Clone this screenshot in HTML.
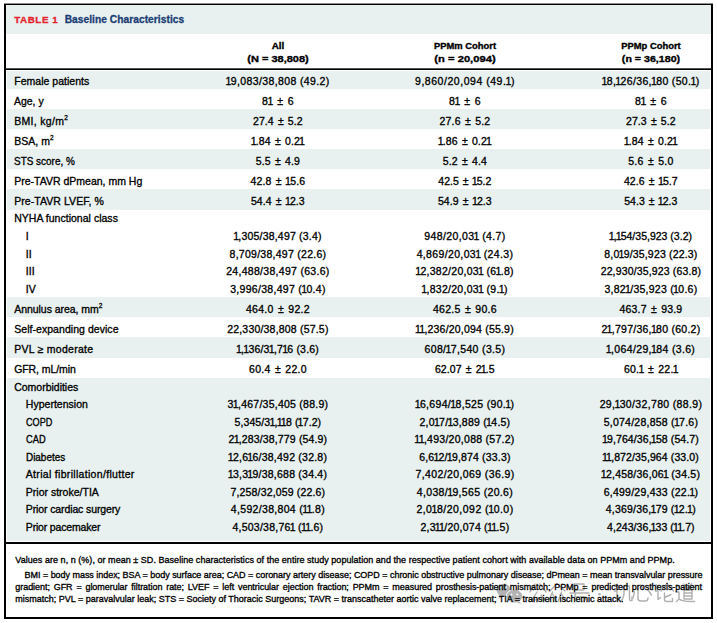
<!DOCTYPE html>
<html><head><meta charset="utf-8"><style>
*{margin:0;padding:0;box-sizing:border-box}
html,body{width:717px;height:623px;background:#fff;overflow:hidden}
body{position:relative;font-family:"Liberation Sans",sans-serif;color:#000;-webkit-text-stroke-width:0.32px}
.box{position:absolute;left:4px;top:4px;width:709px;height:615px;border:2px solid #000;border-top-width:1px}
.tl{position:absolute;left:4px;top:3px;width:709px;height:1px;background:#8c8c8c}
.tb{position:absolute;left:6px;top:5px;width:705px;height:29px;background:#e8f1f0}
.bg{position:absolute;left:7px;width:703px;background:#e8f1f0}
.hl{position:absolute;left:6px;width:705px;height:2px;background:#000}
.t{position:absolute;font-size:10.5px;line-height:14px;white-space:nowrap}
.c{text-align:center}
.h{position:absolute;font-size:9.7px;line-height:14px;font-weight:bold;white-space:nowrap;-webkit-text-stroke-width:0.35px}
.title{position:absolute;font-size:10.2px;line-height:14px;font-weight:bold;white-space:nowrap;-webkit-text-stroke-width:0.3px}
.red{color:#e4222c;font-size:9.8px;letter-spacing:0.55px;margin-right:6.4px}
.blue{color:#1b3d74}

.pm{margin:0 1.1px}
sup{font-size:0.62em;line-height:0;vertical-align:0.72em;letter-spacing:0}
.f{position:absolute;font-size:9.0px;line-height:14px;white-space:nowrap}
.j{text-align:justify;text-align-last:justify}
</style></head><body>
<div class="tb"></div>
<div class="hl" style="top:68px;height:1px;background:#555"></div><div class="hl" style="top:69px;height:1px"></div>
<div class="hl" style="top:541.5px"></div>
<svg style="position:absolute;left:0;top:0" width="717" height="623" viewBox="0 0 717 623">
<g fill="none" stroke="#b0b0b0" stroke-width="1.4" stroke-linecap="round" stroke-linejoin="round">
<g transform="translate(528,583)">
<path d="M7 1 L2 9 M12 1 L18 9 M9 9 L4 17 L16 16 M13 12 L18 18"/>
</g>
<g transform="translate(547,583)">
<path d="M10 0.5 L3 8 M10 0.5 L18 8 M5.5 9 L1.5 18.5 M5.5 11 L9 17 M14.5 9 L11 18.5 M14.5 11 L19 18.5"/>
</g>
<g transform="translate(569,583)">
<path d="M5 1 H15 V7 H5 Z M1 10 H20 M7 10 L5.5 14 H16.5 Q16.5 19 12 18.5"/>
</g>
<g transform="translate(613,583)">
<path d="M2 1.5 L4.5 4 M1.5 8 H4 V16.5 L6.5 14.5 M11 3 V11 Q10.5 16 7.5 18.5 M11 3 H16.5 V16 Q16.5 18 19 17.5 V14"/>
</g>
<g transform="translate(632,583)">
<path d="M2.5 9 L1 15 M6 6 V15.5 Q6 18 9 18 H13.5 Q16 18 16 15 M8.5 2 L11 5.5 M16 7 L19.5 12"/>
</g>
<g transform="translate(654,583)">
<path d="M2 1.5 L4.5 4 M1.5 8 H4 V16.5 L6.5 14.5 M13 0.5 L7 8 M13 0.5 L19.5 8 M10.5 10 V16.5 Q10.5 18.5 13 18.5 H18.5 V15.5 M17 11.5 L10.5 14.5"/>
</g>
<g transform="translate(675,583)">
<path d="M2 2 L4 4.5 M1 9 H4 V16 L1.5 18.5 M4 16 Q8 19 19.5 18.5 M9 1 L10.5 3 M16.5 0.5 L15 3 M7 4.5 H19.5 M13 4.5 L12 7 M9 7 H17 V16 H9 Z M9 10 H17 M9 13 H17"/>
</g>
</g>
<circle cx="599.5" cy="594.2" r="1.3" fill="#b0b0b0"/>
<g fill="#b3b3b3">
<ellipse cx="503.5" cy="590" rx="7" ry="6.3"/>
<path d="M500 594.5 L498.5 599 L503 596 Z"/>
</g>
<g fill="#b3b3b3" stroke="#fff" stroke-width="1">
<ellipse cx="514.5" cy="596.3" rx="8.2" ry="6.8"/>
</g>
<path d="M519.5 601.5 L521.5 604 L516.5 602.5 Z" fill="#b3b3b3"/>
<g fill="#fff"><circle cx="500.5" cy="587.5" r="0.9"/><circle cx="505.8" cy="587.5" r="0.9"/><circle cx="511.5" cy="594.5" r="0.9"/><circle cx="517.3" cy="594.5" r="0.9"/></g>
</svg>
<div class="bg" style="top:71.0px;height:17.6px"></div>
<div class="bg" style="top:108.8px;height:19.8px"></div>
<div class="bg" style="top:148.8px;height:19.8px"></div>
<div class="bg" style="top:188.8px;height:21.0px"></div>
<div class="bg" style="top:296.8px;height:20.2px"></div>
<div class="bg" style="top:336.8px;height:21.0px"></div>
<div class="bg" style="top:378.0px;height:163.0px"></div>
<div id="e0" class="t" style="left:14.20px;top:74.36px;letter-spacing:0.029px">Female patients</div>
<div class="t c" style="left:177.80px;width:200px;top:74.36px"><span id="e1" style="letter-spacing:0.384px;margin-right:-0.384px"><span style="margin-left:-0.9px;letter-spacing:-0.516px">1</span>9,083/38,808 (49.2)</span></div>
<div class="t c" style="left:364.80px;width:200px;top:74.36px"><span id="e2" style="letter-spacing:0.533px;margin-right:-0.533px">9,860/20,094 (49.<span style="margin-left:-0.9px;letter-spacing:-0.367px">1</span>)</span></div>
<div class="t c" style="left:550.80px;width:200px;top:74.36px"><span id="e3" style="letter-spacing:0.338px;margin-right:-0.338px"><span style="margin-left:-0.9px;letter-spacing:-0.562px">1</span>8,<span style="margin-left:-0.9px;letter-spacing:-0.562px">1</span>26/36,<span style="margin-left:-0.9px;letter-spacing:-0.562px">1</span>80 (50.<span style="margin-left:-0.9px;letter-spacing:-0.562px">1</span>)</span></div>
<div id="e4" class="t" style="left:14.20px;top:94.26px;letter-spacing:0.000px;transform:scaleX(0.9951);transform-origin:0 0">Age, y</div>
<div class="t c" style="left:177.80px;width:200px;top:94.26px"><span id="e5" style="letter-spacing:0.400px;margin-right:-0.400px">8<span style="margin-left:-0.9px;letter-spacing:-0.500px">1</span> <span class="pm">±</span> 6</span></div>
<div class="t c" style="left:364.80px;width:200px;top:94.26px"><span id="e6" style="letter-spacing:0.400px;margin-right:-0.400px">8<span style="margin-left:-0.9px;letter-spacing:-0.500px">1</span> <span class="pm">±</span> 6</span></div>
<div class="t c" style="left:550.80px;width:200px;top:94.26px"><span id="e7" style="letter-spacing:0.400px;margin-right:-0.400px">8<span style="margin-left:-0.9px;letter-spacing:-0.500px">1</span> <span class="pm">±</span> 6</span></div>
<div id="e8" class="t" style="left:14.20px;top:113.96px;letter-spacing:0.311px">BMI, kg/m<sup>2</sup></div>
<div class="t c" style="left:177.80px;width:200px;top:113.96px"><span id="e9" style="letter-spacing:0.089px;margin-right:-0.089px">27.4 <span class="pm">±</span> 5.2</span></div>
<div class="t c" style="left:364.80px;width:200px;top:113.96px"><span id="e10" style="letter-spacing:0.211px;margin-right:-0.211px">27.6 <span class="pm">±</span> 5.2</span></div>
<div class="t c" style="left:550.80px;width:200px;top:113.96px"><span id="e11" style="letter-spacing:0.089px;margin-right:-0.089px">27.3 <span class="pm">±</span> 5.2</span></div>
<div id="e12" class="t" style="left:14.20px;top:133.96px;letter-spacing:0.033px">BSA, m<sup>2</sup></div>
<div class="t c" style="left:177.80px;width:200px;top:133.96px"><span id="e13" style="letter-spacing:0.120px;margin-right:-0.120px"><span style="margin-left:-0.9px;letter-spacing:-0.780px">1</span>.84 <span class="pm">±</span> 0.2<span style="margin-left:-0.9px;letter-spacing:-0.780px">1</span></span></div>
<div class="t c" style="left:364.80px;width:200px;top:133.96px"><span id="e14" style="letter-spacing:0.110px;margin-right:-0.110px"><span style="margin-left:-0.9px;letter-spacing:-0.790px">1</span>.86 <span class="pm">±</span> 0.2<span style="margin-left:-0.9px;letter-spacing:-0.790px">1</span></span></div>
<div class="t c" style="left:550.80px;width:200px;top:133.96px"><span id="e15" style="letter-spacing:0.120px;margin-right:-0.120px"><span style="margin-left:-0.9px;letter-spacing:-0.780px">1</span>.84 <span class="pm">±</span> 0.2<span style="margin-left:-0.9px;letter-spacing:-0.780px">1</span></span></div>
<div id="e16" class="t" style="left:14.20px;top:154.16px;letter-spacing:0.000px;transform:scaleX(0.9469);transform-origin:0 0">STS score, %</div>
<div class="t c" style="left:177.80px;width:200px;top:154.16px"><span id="e17" style="letter-spacing:0.150px;margin-right:-0.150px">5.5 <span class="pm">±</span> 4.9</span></div>
<div class="t c" style="left:364.80px;width:200px;top:154.16px"><span id="e18" style="letter-spacing:0.150px;margin-right:-0.150px">5.2 <span class="pm">±</span> 4.4</span></div>
<div class="t c" style="left:550.80px;width:200px;top:154.16px"><span id="e19" style="letter-spacing:0.262px;margin-right:-0.262px">5.6 <span class="pm">±</span> 5.0</span></div>
<div id="e20" class="t" style="left:14.20px;top:173.96px;letter-spacing:0.005px">Pre-TAVR dPmean, mm Hg</div>
<div class="t c" style="left:177.80px;width:200px;top:173.96px"><span id="e21" style="letter-spacing:0.190px;margin-right:-0.190px">42.8 <span class="pm">±</span> <span style="margin-left:-0.9px;letter-spacing:-0.710px">1</span>5.6</span></div>
<div class="t c" style="left:364.80px;width:200px;top:173.96px"><span id="e22" style="letter-spacing:0.000px;margin-right:-0.000px">42.5 <span class="pm">±</span> <span style="margin-left:-0.9px;letter-spacing:-0.900px">1</span>5.2</span></div>
<div class="t c" style="left:550.80px;width:200px;top:173.96px"><span id="e23" style="letter-spacing:0.090px;margin-right:-0.090px">42.6 <span class="pm">±</span> <span style="margin-left:-0.9px;letter-spacing:-0.810px">1</span>5.7</span></div>
<div id="e24" class="t" style="left:14.20px;top:193.96px;letter-spacing:0.067px">Pre-TAVR LVEF, %</div>
<div class="t c" style="left:177.80px;width:200px;top:193.96px"><span id="e25" style="letter-spacing:0.090px;margin-right:-0.090px">54.4 <span class="pm">±</span> <span style="margin-left:-0.9px;letter-spacing:-0.810px">1</span>2.3</span></div>
<div class="t c" style="left:364.80px;width:200px;top:193.96px"><span id="e26" style="letter-spacing:0.090px;margin-right:-0.090px">54.9 <span class="pm">±</span> <span style="margin-left:-0.9px;letter-spacing:-0.810px">1</span>2.3</span></div>
<div class="t c" style="left:550.80px;width:200px;top:193.96px"><span id="e27" style="letter-spacing:0.020px;margin-right:-0.020px">54.3 <span class="pm">±</span> <span style="margin-left:-0.9px;letter-spacing:-0.880px">1</span>2.3</span></div>
<div id="e28" class="t" style="left:14.20px;top:211.36px;letter-spacing:0.020px">NYHA functional class</div>
<div id="e29" class="t" style="left:25.80px;top:229.16px;letter-spacing:0.000px">I</div>
<div class="t c" style="left:177.80px;width:200px;top:229.16px"><span id="e30" style="letter-spacing:0.200px;margin-right:-0.200px"><span style="margin-left:-0.9px;letter-spacing:-0.700px">1</span>,305/38,497 (3.4)</span></div>
<div class="t c" style="left:364.80px;width:200px;top:229.16px"><span id="e31" style="letter-spacing:0.372px;margin-right:-0.372px">948/20,03<span style="margin-left:-0.9px;letter-spacing:-0.528px">1</span> (4.7)</span></div>
<div class="t c" style="left:550.80px;width:200px;top:229.16px"><span id="e32" style="letter-spacing:0.006px;margin-right:-0.006px"><span style="margin-left:-0.9px;letter-spacing:-0.894px">1</span>,<span style="margin-left:-0.9px;letter-spacing:-0.894px">1</span>54/35,923 (3.2)</span></div>
<div id="e33" class="t" style="left:25.80px;top:246.76px;letter-spacing:0.000px">II</div>
<div class="t c" style="left:177.80px;width:200px;top:246.76px"><span id="e34" style="letter-spacing:0.272px;margin-right:-0.272px">8,709/38,497 (22.6)</span></div>
<div class="t c" style="left:364.80px;width:200px;top:246.76px"><span id="e35" style="letter-spacing:0.356px;margin-right:-0.356px">4,869/20,03<span style="margin-left:-0.9px;letter-spacing:-0.544px">1</span> (24.3)</span></div>
<div class="t c" style="left:550.80px;width:200px;top:246.76px"><span id="e36" style="letter-spacing:0.172px;margin-right:-0.172px">8,0<span style="margin-left:-0.9px;letter-spacing:-0.728px">1</span>9/35,923 (22.3)</span></div>
<div id="e37" class="t" style="left:25.80px;top:264.36px;letter-spacing:0.000px">III</div>
<div class="t c" style="left:177.80px;width:200px;top:264.36px"><span id="e38" style="letter-spacing:0.295px;margin-right:-0.295px">24,488/38,497 (63.6)</span></div>
<div class="t c" style="left:364.80px;width:200px;top:264.36px"><span id="e39" style="letter-spacing:0.279px;margin-right:-0.279px"><span style="margin-left:-0.9px;letter-spacing:-0.621px">1</span>2,382/20,03<span style="margin-left:-0.9px;letter-spacing:-0.621px">1</span> (6<span style="margin-left:-0.9px;letter-spacing:-0.621px">1</span>.8)</span></div>
<div class="t c" style="left:550.80px;width:200px;top:264.36px"><span id="e40" style="letter-spacing:0.147px;margin-right:-0.147px">22,930/35,923 (63.8)</span></div>
<div id="e41" class="t" style="left:25.80px;top:281.96px;letter-spacing:0.000px">IV</div>
<div class="t c" style="left:177.80px;width:200px;top:281.96px"><span id="e42" style="letter-spacing:0.300px;margin-right:-0.300px">3,996/38,497 (<span style="margin-left:-0.9px;letter-spacing:-0.600px">1</span>0.4)</span></div>
<div class="t c" style="left:364.80px;width:200px;top:281.96px"><span id="e43" style="letter-spacing:0.290px;margin-right:-0.290px"><span style="margin-left:-0.9px;letter-spacing:-0.610px">1</span>,832/20,03<span style="margin-left:-0.9px;letter-spacing:-0.610px">1</span> (9.<span style="margin-left:-0.9px;letter-spacing:-0.610px">1</span>)</span></div>
<div class="t c" style="left:550.80px;width:200px;top:281.96px"><span id="e44" style="letter-spacing:0.256px;margin-right:-0.256px">3,82<span style="margin-left:-0.9px;letter-spacing:-0.644px">1</span>/35,923 (<span style="margin-left:-0.9px;letter-spacing:-0.644px">1</span>0.6)</span></div>
<div id="e45" class="t" style="left:14.20px;top:302.16px;letter-spacing:-0.038px">Annulus area, mm<sup>2</sup></div>
<div class="t c" style="left:177.80px;width:200px;top:302.16px"><span id="e46" style="letter-spacing:0.291px;margin-right:-0.291px">464.0 <span class="pm">±</span> 92.2</span></div>
<div class="t c" style="left:364.80px;width:200px;top:302.16px"><span id="e47" style="letter-spacing:0.291px;margin-right:-0.291px">462.5 <span class="pm">±</span> 90.6</span></div>
<div class="t c" style="left:550.80px;width:200px;top:302.16px"><span id="e48" style="letter-spacing:0.209px;margin-right:-0.209px">463.7 <span class="pm">±</span> 93.9</span></div>
<div id="e49" class="t" style="left:14.20px;top:322.16px;letter-spacing:0.050px">Self-expanding device</div>
<div class="t c" style="left:177.80px;width:200px;top:322.16px"><span id="e50" style="letter-spacing:0.195px;margin-right:-0.195px">22,330/38,808 (57.5)</span></div>
<div class="t c" style="left:364.80px;width:200px;top:322.16px"><span id="e51" style="letter-spacing:0.200px;margin-right:-0.200px"><span style="margin-left:-0.9px;letter-spacing:-0.700px">1</span><span style="margin-left:-0.9px;letter-spacing:-0.700px">1</span>,236/20,094 (55.9)</span></div>
<div class="t c" style="left:550.80px;width:200px;top:322.16px"><span id="e52" style="letter-spacing:0.253px;margin-right:-0.253px">2<span style="margin-left:-0.9px;letter-spacing:-0.647px">1</span>,797/36,<span style="margin-left:-0.9px;letter-spacing:-0.647px">1</span>80 (60.2)</span></div>
<div id="e53" class="t" style="left:14.20px;top:342.26px;letter-spacing:0.269px">PVL ≥ moderate</div>
<div class="t c" style="left:177.80px;width:200px;top:342.26px"><span id="e54" style="letter-spacing:0.194px;margin-right:-0.194px"><span style="margin-left:-0.9px;letter-spacing:-0.706px">1</span>,<span style="margin-left:-0.9px;letter-spacing:-0.706px">1</span>36/3<span style="margin-left:-0.9px;letter-spacing:-0.706px">1</span>,7<span style="margin-left:-0.9px;letter-spacing:-0.706px">1</span>6 (3.6)</span></div>
<div class="t c" style="left:364.80px;width:200px;top:342.26px"><span id="e55" style="letter-spacing:0.348px;margin-right:-0.348px">608/<span style="margin-left:-0.9px;letter-spacing:-0.552px">1</span>7,540 (3.5)</span></div>
<div class="t c" style="left:550.80px;width:200px;top:342.26px"><span id="e56" style="letter-spacing:0.347px;margin-right:-0.347px"><span style="margin-left:-0.9px;letter-spacing:-0.553px">1</span>,064/29,<span style="margin-left:-0.9px;letter-spacing:-0.553px">1</span>84 (3.6)</span></div>
<div id="e57" class="t" style="left:14.20px;top:362.36px;letter-spacing:-0.080px">GFR, mL/min</div>
<div class="t c" style="left:177.80px;width:200px;top:362.36px"><span id="e58" style="letter-spacing:0.290px;margin-right:-0.290px">60.4 <span class="pm">±</span> 22.0</span></div>
<div class="t c" style="left:364.80px;width:200px;top:362.36px"><span id="e59" style="letter-spacing:0.096px;margin-right:-0.096px">62.07 <span class="pm">±</span> 2<span style="margin-left:-0.9px;letter-spacing:-0.804px">1</span>.5</span></div>
<div class="t c" style="left:550.80px;width:200px;top:362.36px"><span id="e60" style="letter-spacing:0.260px;margin-right:-0.260px">60.<span style="margin-left:-0.9px;letter-spacing:-0.640px">1</span> <span class="pm">±</span> 22.<span style="margin-left:-0.9px;letter-spacing:-0.640px">1</span></span></div>
<div id="e61" class="t" style="left:14.20px;top:379.96px;letter-spacing:-0.008px">Comorbidities</div>
<div id="e62" class="t" style="left:25.80px;top:397.46px;letter-spacing:0.018px">Hypertension</div>
<div class="t c" style="left:177.80px;width:200px;top:397.46px"><span id="e63" style="letter-spacing:0.247px;margin-right:-0.247px">3<span style="margin-left:-0.9px;letter-spacing:-0.653px">1</span>,467/35,405 (88.9)</span></div>
<div class="t c" style="left:364.80px;width:200px;top:397.46px"><span id="e64" style="letter-spacing:0.332px;margin-right:-0.332px"><span style="margin-left:-0.9px;letter-spacing:-0.568px">1</span>6,694/<span style="margin-left:-0.9px;letter-spacing:-0.568px">1</span>8,525 (90.<span style="margin-left:-0.9px;letter-spacing:-0.568px">1</span>)</span></div>
<div class="t c" style="left:550.80px;width:200px;top:397.46px"><span id="e65" style="letter-spacing:0.347px;margin-right:-0.347px">29,<span style="margin-left:-0.9px;letter-spacing:-0.553px">1</span>30/32,780 (88.9)</span></div>
<div id="e66" class="t" style="left:25.80px;top:414.96px;letter-spacing:0.000px;transform:scaleX(0.8667);transform-origin:0 0">COPD</div>
<div class="t c" style="left:177.80px;width:200px;top:414.96px"><span id="e67" style="letter-spacing:0.117px;margin-right:-0.117px">5,345/3<span style="margin-left:-0.9px;letter-spacing:-0.783px">1</span>,<span style="margin-left:-0.9px;letter-spacing:-0.783px">1</span><span style="margin-left:-0.9px;letter-spacing:-0.783px">1</span>8 (<span style="margin-left:-0.9px;letter-spacing:-0.783px">1</span>7.2)</span></div>
<div class="t c" style="left:364.80px;width:200px;top:414.96px"><span id="e68" style="letter-spacing:0.239px;margin-right:-0.239px">2,0<span style="margin-left:-0.9px;letter-spacing:-0.661px">1</span>7/<span style="margin-left:-0.9px;letter-spacing:-0.661px">1</span>3,889 (<span style="margin-left:-0.9px;letter-spacing:-0.661px">1</span>4.5)</span></div>
<div class="t c" style="left:550.80px;width:200px;top:414.96px"><span id="e69" style="letter-spacing:0.239px;margin-right:-0.239px">5,074/28,858 (<span style="margin-left:-0.9px;letter-spacing:-0.661px">1</span>7.6)</span></div>
<div id="e70" class="t" style="left:25.80px;top:432.46px;letter-spacing:0.000px;transform:scaleX(0.8839);transform-origin:0 0">CAD</div>
<div class="t c" style="left:177.80px;width:200px;top:432.46px"><span id="e71" style="letter-spacing:0.147px;margin-right:-0.147px">2<span style="margin-left:-0.9px;letter-spacing:-0.753px">1</span>,283/38,779 (54.9)</span></div>
<div class="t c" style="left:364.80px;width:200px;top:432.46px"><span id="e72" style="letter-spacing:0.274px;margin-right:-0.274px"><span style="margin-left:-0.9px;letter-spacing:-0.626px">1</span><span style="margin-left:-0.9px;letter-spacing:-0.626px">1</span>,493/20,088 (57.2)</span></div>
<div class="t c" style="left:550.80px;width:200px;top:432.46px"><span id="e73" style="letter-spacing:0.105px;margin-right:-0.105px"><span style="margin-left:-0.9px;letter-spacing:-0.795px">1</span>9,764/36,<span style="margin-left:-0.9px;letter-spacing:-0.795px">1</span>58 (54.7)</span></div>
<div id="e74" class="t" style="left:25.80px;top:449.96px;letter-spacing:0.000px;transform:scaleX(0.9439);transform-origin:0 0">Diabetes</div>
<div class="t c" style="left:177.80px;width:200px;top:449.96px"><span id="e75" style="letter-spacing:0.226px;margin-right:-0.226px"><span style="margin-left:-0.9px;letter-spacing:-0.674px">1</span>2,6<span style="margin-left:-0.9px;letter-spacing:-0.674px">1</span>6/38,492 (32.8)</span></div>
<div class="t c" style="left:364.80px;width:200px;top:449.96px"><span id="e76" style="letter-spacing:0.172px;margin-right:-0.172px">6,6<span style="margin-left:-0.9px;letter-spacing:-0.728px">1</span>2/<span style="margin-left:-0.9px;letter-spacing:-0.728px">1</span>9,874 (33.3)</span></div>
<div class="t c" style="left:550.80px;width:200px;top:449.96px"><span id="e77" style="letter-spacing:0.105px;margin-right:-0.105px"><span style="margin-left:-0.9px;letter-spacing:-0.795px">1</span><span style="margin-left:-0.9px;letter-spacing:-0.795px">1</span>,872/35,964 (33.0)</span></div>
<div id="e78" class="t" style="left:25.80px;top:467.46px;letter-spacing:0.312px">Atrial fibrillation/flutter</div>
<div class="t c" style="left:177.80px;width:200px;top:467.46px"><span id="e79" style="letter-spacing:0.226px;margin-right:-0.226px"><span style="margin-left:-0.9px;letter-spacing:-0.674px">1</span>3,3<span style="margin-left:-0.9px;letter-spacing:-0.674px">1</span>9/38,688 (34.4)</span></div>
<div class="t c" style="left:364.80px;width:200px;top:467.46px"><span id="e80" style="letter-spacing:0.394px;margin-right:-0.394px">7,402/20,069 (36.9)</span></div>
<div class="t c" style="left:550.80px;width:200px;top:467.46px"><span id="e81" style="letter-spacing:0.226px;margin-right:-0.226px"><span style="margin-left:-0.9px;letter-spacing:-0.674px">1</span>2,458/36,06<span style="margin-left:-0.9px;letter-spacing:-0.674px">1</span> (34.5)</span></div>
<div id="e82" class="t" style="left:25.80px;top:484.96px;letter-spacing:0.007px">Prior stroke/TIA</div>
<div class="t c" style="left:177.80px;width:200px;top:484.96px"><span id="e83" style="letter-spacing:0.156px;margin-right:-0.156px">7,258/32,059 (22.6)</span></div>
<div class="t c" style="left:364.80px;width:200px;top:484.96px"><span id="e84" style="letter-spacing:0.333px;margin-right:-0.333px">4,038/<span style="margin-left:-0.9px;letter-spacing:-0.567px">1</span>9,565 (20.6)</span></div>
<div class="t c" style="left:550.80px;width:200px;top:484.96px"><span id="e85" style="letter-spacing:0.239px;margin-right:-0.239px">6,499/29,433 (22.<span style="margin-left:-0.9px;letter-spacing:-0.661px">1</span>)</span></div>
<div id="e86" class="t" style="left:25.80px;top:502.46px;letter-spacing:-0.115px">Prior cardiac surgery</div>
<div class="t c" style="left:177.80px;width:200px;top:502.46px"><span id="e87" style="letter-spacing:0.322px;margin-right:-0.322px">4,592/38,804 (<span style="margin-left:-0.9px;letter-spacing:-0.578px">1</span><span style="margin-left:-0.9px;letter-spacing:-0.578px">1</span>.8)</span></div>
<div class="t c" style="left:364.80px;width:200px;top:502.46px"><span id="e88" style="letter-spacing:0.483px;margin-right:-0.483px">2,0<span style="margin-left:-0.9px;letter-spacing:-0.417px">1</span>8/20,092 (<span style="margin-left:-0.9px;letter-spacing:-0.417px">1</span>0.0)</span></div>
<div class="t c" style="left:550.80px;width:200px;top:502.46px"><span id="e89" style="letter-spacing:0.200px;margin-right:-0.200px">4,369/36,<span style="margin-left:-0.9px;letter-spacing:-0.700px">1</span>79 (<span style="margin-left:-0.9px;letter-spacing:-0.700px">1</span>2.<span style="margin-left:-0.9px;letter-spacing:-0.700px">1</span>)</span></div>
<div id="e90" class="t" style="left:25.80px;top:519.96px;letter-spacing:-0.171px">Prior pacemaker</div>
<div class="t c" style="left:177.80px;width:200px;top:519.96px"><span id="e91" style="letter-spacing:0.239px;margin-right:-0.239px">4,503/38,76<span style="margin-left:-0.9px;letter-spacing:-0.661px">1</span> (<span style="margin-left:-0.9px;letter-spacing:-0.661px">1</span><span style="margin-left:-0.9px;letter-spacing:-0.661px">1</span>.6)</span></div>
<div class="t c" style="left:364.80px;width:200px;top:519.96px"><span id="e92" style="letter-spacing:0.233px;margin-right:-0.233px">2,3<span style="margin-left:-0.9px;letter-spacing:-0.667px">1</span><span style="margin-left:-0.9px;letter-spacing:-0.667px">1</span>/20,074 (<span style="margin-left:-0.9px;letter-spacing:-0.667px">1</span><span style="margin-left:-0.9px;letter-spacing:-0.667px">1</span>.5)</span></div>
<div class="t c" style="left:550.80px;width:200px;top:519.96px"><span id="e93" style="letter-spacing:0.072px;margin-right:-0.072px">4,243/36,<span style="margin-left:-0.9px;letter-spacing:-0.828px">1</span>33 (<span style="margin-left:-0.9px;letter-spacing:-0.828px">1</span><span style="margin-left:-0.9px;letter-spacing:-0.828px">1</span>.7)</span></div>
<div class="h c" style="left:177.80px;width:200px;top:39.34px;transform:scaleX(1.0216)"><span id="e94">All</span></div>
<div class="h c" style="left:177.80px;width:200px;top:52.34px;transform:scaleX(1.1344)"><span id="e95">(N = 38,808)</span></div>
<div class="h c" style="left:364.80px;width:200px;top:39.34px;transform:scaleX(0.9712)"><span id="e96">PPMm Cohort</span></div>
<div class="h c" style="left:364.80px;width:200px;top:52.34px;transform:scaleX(1.1553)"><span id="e97">(n = 20,094)</span></div>
<div class="h c" style="left:550.80px;width:200px;top:39.34px;transform:scaleX(0.9702)"><span id="e98">PPMp Cohort</span></div>
<div class="h c" style="left:550.80px;width:200px;top:52.34px;transform:scaleX(1.0985)"><span id="e99">(n = 36,180)</span></div>
<div id="e100" class="f" style="left:15.30px;top:552.68px;letter-spacing:0.039px">Values are n, n (%), or mean ± SD. Baseline characteristics of the entire study population and the respective patient cohort with available data on PPMm and PPMp.</div>
<div id="e101" class="f j" style="left:24.50px;top:567.58px;width:677.9px;letter-spacing:-0.05px">BMI = body mass index; BSA = body surface area; CAD = coronary artery disease; COPD = chronic obstructive pulmonary disease; dPmean = mean transvalvular pressure</div>
<div id="e102" class="f j" style="left:15.30px;top:579.98px;width:686.7px;letter-spacing:-0.05px">gradient; GFR = glomerular filtration rate; LVEF = left ventricular ejection fraction; PPMm = measured prosthesis-patient mismatch; PPMp = predicted prosthesis-patient</div>
<div id="e103" class="f" style="left:15.30px;top:592.38px;letter-spacing:-0.002px">mismatch; PVL = paravalvular leak; STS = Society of Thoracic Surgeons; TAVR = transcatheter aortic valve replacement; TIA = transient ischemic attack.</div>
<div class="title" style="left:14.3px;top:13.37px"><span id="tred" class="red">TABLE 1</span><span id="tblue" class="blue" style="letter-spacing:0.050px">Baseline Characteristics</span></div>
<div class="box"></div><div class="tl"></div>
</body></html>
